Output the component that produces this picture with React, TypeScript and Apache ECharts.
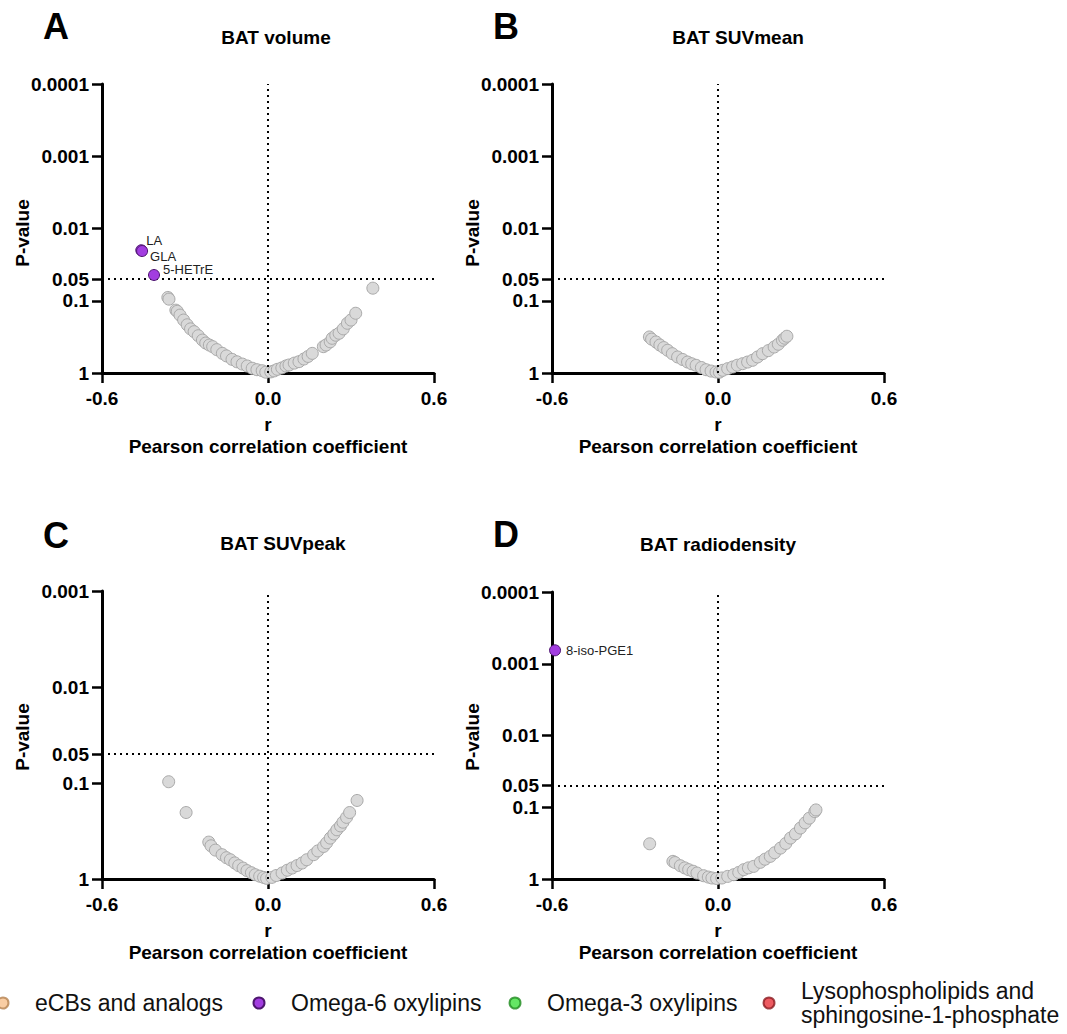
import React, { useEffect, useRef } from "react";
import * as echarts from "echarts";

// ---------- DATA ----------
const xTicks = [-0.6, 0, 0.6];
const yTickLabels4 = ["1", "0.1", "0.05", "0.01", "0.001", "0.0001"];
const yTickLabels3 = ["1", "0.1", "0.05", "0.01", "0.001"];
const pThreshold = 0.05;

const panelTitles = ["BAT volume", "BAT SUVmean", "BAT SUVpeak", "BAT radiodensity"];
const panelLetters = ["A", "B", "C", "D"];

const legendNames = [
  "eCBs and analogs",
  "Omega-6 oxylipins",
  "Omega-3 oxylipins",
  "Lysophospholipids and sphingosine-1-phosphate",
];

// Panel A – BAT volume
const aOmega6Names = ["LA", "GLA", "5-HETrE"];
const aOmega6R = [-0.458, -0.455, -0.412];
const aOmega6P = [0.02, 0.0205, 0.044];
const aOtherR = [-0.362, -0.358, -0.333, -0.328, -0.318, -0.305, -0.292, -0.28, -0.267, -0.252, -0.237, -0.225, -0.212, -0.2, -0.185, -0.165, -0.15, -0.13, -0.112, -0.093, -0.075, -0.057, -0.04, -0.021, -0.008, 0.01, 0.022, 0.034, 0.05, 0.065, 0.076, 0.095, 0.112, 0.13, 0.145, 0.16, 0.2, 0.21, 0.225, 0.232, 0.245, 0.257, 0.272, 0.287, 0.3, 0.317, 0.379];
const aOtherP = [0.09, 0.095, 0.135, 0.14, 0.158, 0.185, 0.215, 0.245, 0.268, 0.305, 0.35, 0.385, 0.41, 0.432, 0.475, 0.535, 0.58, 0.647, 0.7, 0.752, 0.8, 0.86, 0.9, 0.93, 0.975, 0.965, 0.935, 0.89, 0.85, 0.8, 0.775, 0.73, 0.697, 0.64, 0.59, 0.535, 0.432, 0.41, 0.37, 0.331, 0.3, 0.282, 0.245, 0.205, 0.185, 0.149, 0.067];

// Panel B – BAT SUVmean
const bOtherR = [-0.248, -0.24, -0.224, -0.21, -0.196, -0.182, -0.165, -0.146, -0.128, -0.11, -0.095, -0.079, -0.06, -0.043, -0.025, -0.007, 0.005, 0.017, 0.035, 0.053, 0.07, 0.089, 0.107, 0.125, 0.143, 0.161, 0.182, 0.203, 0.218, 0.233, 0.241, 0.249];
const bOtherP = [0.317, 0.34, 0.372, 0.41, 0.445, 0.485, 0.54, 0.6, 0.65, 0.705, 0.745, 0.783, 0.84, 0.9, 0.94, 0.968, 0.975, 0.918, 0.87, 0.826, 0.78, 0.743, 0.705, 0.667, 0.6, 0.54, 0.49, 0.437, 0.4, 0.352, 0.33, 0.31];

// Panel C – BAT SUVpeak
const cOtherR = [-0.359, -0.296, -0.214, -0.206, -0.19, -0.166, -0.15, -0.136, -0.12, -0.106, -0.09, -0.076, -0.06, -0.046, -0.03, -0.016, -0.005, 0.014, 0.03, 0.051, 0.07, 0.087, 0.105, 0.123, 0.14, 0.165, 0.18, 0.201, 0.212, 0.225, 0.238, 0.249, 0.262, 0.271, 0.284, 0.295, 0.322];
const cOtherP = [0.097, 0.203, 0.413, 0.451, 0.5, 0.558, 0.6, 0.63, 0.68, 0.726, 0.77, 0.818, 0.86, 0.902, 0.935, 0.962, 0.985, 0.962, 0.92, 0.867, 0.81, 0.769, 0.725, 0.682, 0.63, 0.558, 0.51, 0.458, 0.42, 0.375, 0.34, 0.307, 0.28, 0.256, 0.228, 0.203, 0.152];

// Panel D – BAT radiodensity
const dOmega6Names = ["8-iso-PGE1"];
const dOmega6R = [-0.589];
const dOmega6P = [0.00065];
const dOtherR = [-0.247, -0.163, -0.155, -0.136, -0.12, -0.106, -0.09, -0.076, -0.052, -0.035, -0.022, -0.005, 0.014, 0.035, 0.057, 0.075, 0.093, 0.11, 0.129, 0.153, 0.17, 0.189, 0.205, 0.226, 0.245, 0.262, 0.28, 0.298, 0.315, 0.33, 0.35, 0.354];
const dOtherP = [0.323, 0.568, 0.59, 0.653, 0.7, 0.741, 0.78, 0.826, 0.9, 0.94, 0.968, 0.985, 0.968, 0.92, 0.871, 0.81, 0.741, 0.7, 0.667, 0.586, 0.53, 0.484, 0.43, 0.371, 0.32, 0.269, 0.235, 0.195, 0.165, 0.142, 0.115, 0.109];

// ---------- STYLE / LAYOUT ----------
const FONT = "Arial, 'Liberation Sans', sans-serif";
const COLORS = {
  ecb: "#f7c08c",
  omega6: "#a23de0",
  omega3: "#3fe03f",
  lyso: "#e9323a",
  gray: "#d9d9d9",
  grayBorder: "#a9a9a9",
};

const layouts = [
  { left: 102, top: 84, height: 289, labels: yTickLabels4, letterX: 43, letterY: 26, titleX: 276, titleY: 37, yTitleX: 22, yTitleY: 233, rY: 424, pearsonY: 446, cx: 268 },
  { left: 552, top: 84, height: 289, labels: yTickLabels4, letterX: 493, letterY: 26, titleX: 738, titleY: 37, yTitleX: 472, yTitleY: 233, rY: 424, pearsonY: 446, cx: 718 },
  { left: 102, top: 591, height: 288, labels: yTickLabels3, letterX: 43, letterY: 535, titleX: 283, titleY: 543, yTitleX: 22, yTitleY: 737, rY: 930, pearsonY: 952, cx: 268 },
  { left: 552, top: 592, height: 287, labels: yTickLabels4, letterX: 493, letterY: 534, titleX: 718, titleY: 544, yTitleX: 472, yTitleY: 737, rY: 930, pearsonY: 952, cx: 718 },
];

const labelOffsets: Record<string, number[]> = {
  LA: [-6, -10],
  GLA: [-3, 5],
  "5-HETrE": [-2, -5],
  "8-iso-PGE1": [0, 0],
};

// legend box left = icon's left edge
const legendPos = [
  { left: -3.5, top: 991 },
  { left: 252.5, top: 991 },
  { left: 508.5, top: 991 },
  { left: 762.5, top: 979 },
];

const negLog = (p: number) => -Math.log10(p);
const pairs = (r: number[], p: number[]) => r.map((x, i) => [x, negLog(p[i])]);

function buildOption() {
  const others = [
    pairs(aOtherR, aOtherP),
    pairs(bOtherR, bOtherP),
    pairs(cOtherR, cOtherP),
    pairs(dOtherR, dOtherP),
  ];

  const grid = layouts.map((l) => ({ left: l.left, top: l.top, width: 332, height: l.height }));

  const axisLineStyle = { color: "#000", width: 3 };
  const tickText = { color: "#000", fontSize: 19, fontWeight: "bold", fontFamily: FONT };

  const xAxis = layouts.map((_, i) => ({
    type: "value",
    gridIndex: i,
    min: xTicks[0],
    max: xTicks[xTicks.length - 1],
    interval: 0.6,
    axisLine: { onZero: false, lineStyle: axisLineStyle },
    axisTick: { show: true, length: 10, lineStyle: { color: "#000", width: 2.5 } },
    axisLabel: {
      ...tickText,
      margin: 16,
      formatter: (v: number) => (Math.abs(v) < 1e-9 ? "0.0" : v.toFixed(1)),
    },
    splitLine: { show: false },
  }));

  const yAxis = layouts.map((l, i) => {
    const vals = l.labels.map((s) => negLog(parseFloat(s)));
    return {
      type: "value",
      gridIndex: i,
      min: 0,
      max: vals[vals.length - 1],
      axisLine: { onZero: false, lineStyle: axisLineStyle },
      axisTick: { show: true, length: 10, customValues: vals, lineStyle: { color: "#000", width: 2.5 } },
      axisLabel: {
        ...tickText,
        margin: 13,
        customValues: vals,
        formatter: (v: number) => {
          const idx = vals.findIndex((t) => Math.abs(t - v) < 1e-6);
          return idx >= 0 ? l.labels[idx] : "";
        },
      },
      splitLine: { show: false },
    };
  });

  const refLine = {
    silent: true,
    symbol: ["none", "none"],
    label: { show: false },
    lineStyle: { color: "#000", width: 2, type: [2, 4] },
    data: [{ xAxis: 0 }, { yAxis: negLog(pThreshold) }],
  };

  const series: any[] = others.map((d, i) => ({
    type: "scatter",
    name: "Other metabolites",
    xAxisIndex: i,
    yAxisIndex: i,
    data: d,
    symbolSize: 12,
    itemStyle: { color: COLORS.gray, borderColor: COLORS.grayBorder, borderWidth: 1, opacity: 1 },
    markLine: refLine,
    z: 2,
  }));

  const labelled = (names: string[], r: number[], p: number[]) =>
    names.map((n, i) => ({
      name: n,
      value: [r[i], negLog(p[i])],
      label: {
        show: true,
        position: "right",
        formatter: n,
        offset: labelOffsets[n],
        color: "#222",
        fontSize: 13,
        fontFamily: FONT,
      },
    }));

  const omegaStyle = { color: COLORS.omega6, borderColor: "#4e1670", borderWidth: 1, opacity: 1 };
  series.push({
    type: "scatter",
    name: legendNames[1],
    xAxisIndex: 0,
    yAxisIndex: 0,
    data: labelled(aOmega6Names, aOmega6R, aOmega6P),
    symbolSize: 11,
    itemStyle: omegaStyle,
    z: 5,
  });
  series.push({
    type: "scatter",
    name: legendNames[1],
    xAxisIndex: 3,
    yAxisIndex: 3,
    data: labelled(dOmega6Names, dOmega6R, dOmega6P),
    symbolSize: 11,
    itemStyle: omegaStyle,
    z: 5,
  });
  // Classes present in the legend only
  [
    { name: legendNames[0], color: COLORS.ecb, border: "#b4814f" },
    { name: legendNames[2], color: COLORS.omega3, border: "#1f8a1f" },
    { name: legendNames[3], color: COLORS.lyso, border: "#8a1a1f" },
  ].forEach((s) =>
    series.push({
      type: "scatter",
      name: s.name,
      xAxisIndex: 0,
      yAxisIndex: 0,
      data: [],
      itemStyle: { color: s.color, borderColor: s.border, borderWidth: 1 },
    })
  );

  const legend = legendNames.map((n, i) => ({
    data: [n],
    left: legendPos[i].left,
    top: legendPos[i].top,
    padding: 0,
    icon: "circle",
    itemWidth: 54,
    itemHeight: 11,
    selectedMode: false,
    formatter: (name: string) =>
      name === legendNames[3] ? "Lysophospholipids and\nsphingosine-1-phosphate" : name,
    textStyle: { fontSize: 23, fontFamily: FONT, color: "#111", lineHeight: 24 },
  }));

  const boldText = (text: string, x: number, y: number, size: number, align = "center", rotation = 0) => ({
    type: "text",
    x,
    y,
    rotation,
    silent: true,
    style: {
      text,
      fill: "#000",
      fontSize: size,
      fontWeight: "bold",
      fontFamily: FONT,
      align,
      textAlign: align,
      verticalAlign: "middle",
      textVerticalAlign: "middle",
    },
  });

  const graphic: any[] = [];
  layouts.forEach((l, i) => {
    graphic.push(boldText(panelLetters[i], l.letterX, l.letterY, 36, "left"));
    graphic.push(boldText(panelTitles[i], l.titleX, l.titleY, 19));
    graphic.push(boldText("P-value", l.yTitleX, l.yTitleY, 19, "center", Math.PI / 2));
    graphic.push(boldText("r", l.cx, l.rY, 19));
    graphic.push(boldText("Pearson correlation coefficient", l.cx, l.pearsonY, 19));
  });

  return {
    animation: false,
    backgroundColor: "#fff",
    grid,
    xAxis,
    yAxis,
    series,
    legend,
    graphic,
  };
}

export default function App() {
  const ref = useRef<HTMLDivElement>(null);
  useEffect(() => {
    if (!ref.current) return;
    const chart = echarts.init(ref.current, undefined, { renderer: "svg" });
    chart.setOption(buildOption() as any);
    return () => chart.dispose();
  }, []);
  return (
    <div
      ref={ref}
      style={{ position: "fixed", left: 0, top: 0, width: 1067, height: 1034, background: "#fff" }}
    />
  );
}
